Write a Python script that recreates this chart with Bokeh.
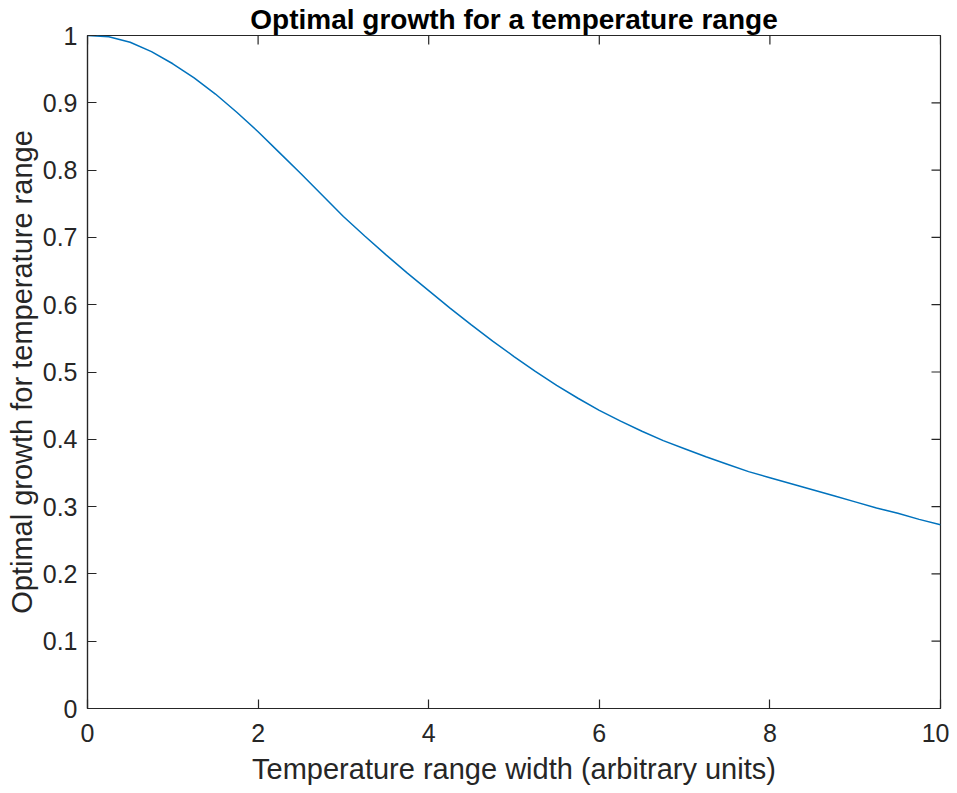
import math
from bokeh.plotting import figure
from bokeh.models import LinearAxis, FixedTicker, Range1d, Title
from bokeh.embed import file_html
from bokeh.resources import INLINE

# Data
width_x = [0.0, 0.25, 0.5, 0.75, 1.0, 1.25, 1.5, 1.75, 2.0, 2.25, 2.5, 2.75,
           3.0, 3.25, 3.5, 3.75, 4.0, 4.25, 4.5, 4.75, 5.0, 5.25, 5.5, 5.75,
           6.0, 6.25, 6.5, 6.75, 7.0, 7.25, 7.5, 7.75, 8.0, 8.25, 8.5, 8.75,
           9.0, 9.25, 9.5, 9.75, 10.0]
growth_y = [1.000, 0.998, 0.990, 0.976, 0.958, 0.937, 0.913, 0.886, 0.857,
            0.826, 0.795, 0.763, 0.731, 0.702, 0.674, 0.647, 0.621, 0.595,
            0.570, 0.546, 0.523, 0.501, 0.480, 0.461, 0.443, 0.427, 0.412,
            0.398, 0.386, 0.374, 0.363, 0.352, 0.343, 0.334, 0.325, 0.316,
            0.307, 0.298, 0.290, 0.281, 0.273]

x_ticks = [0, 2, 4, 6, 8, 10]
x_tick_labels = ["0", "2", "4", "6", "8", "10"]
y_ticks = [0, 0.1, 0.2, 0.3, 0.4, 0.5, 0.6, 0.7, 0.8, 0.9, 1.0]
y_tick_labels = ["0", "0.1", "0.2", "0.3", "0.4", "0.5", "0.6", "0.7", "0.8", "0.9", "1"]

title_text = "Optimal growth for a temperature range"
x_label = "Temperature range width (arbitrary units)"
y_label = "Optimal growth for temperature range"

FONT = "Liberation Sans"
AX = "#262626"

p = figure(width=949, height=793, output_backend="svg", toolbar_location=None,
           x_range=Range1d(0, 10), y_range=Range1d(0, 1),
           x_axis_location=None, y_axis_location=None,
           min_border_left=87, min_border_right=9, min_border_top=35,
           min_border_bottom=85)
p.background_fill_color = "white"
p.border_fill_color = "white"
p.xgrid.visible = False
p.ygrid.visible = False
p.outline_line_color = AX
p.outline_line_width = 1.2

p.title = Title(text=title_text, text_font=FONT, text_font_size="28px",
                text_font_style="bold", text_color="black", align="center",
                offset=0, standoff=2, text_line_height=1.0)

def style(ax, labels, ticks, title):
    ax.ticker = FixedTicker(ticks=ticks)
    ax.major_label_overrides = {t: l for t, l in zip(ticks, labels)}
    ax.axis_line_color = AX
    ax.axis_line_width = 1.2
    ax.major_tick_line_color = AX
    ax.major_tick_line_width = 1.2
    ax.major_tick_in = 9
    ax.major_tick_out = 0
    ax.minor_tick_line_color = None
    ax.major_label_text_font = FONT
    ax.major_label_text_color = AX
    ax.major_label_text_font_size = "25px"
    ax.axis_label = title
    ax.axis_label_text_font = FONT
    ax.axis_label_text_font_size = "29px"
    ax.axis_label_text_font_style = "normal"
    ax.axis_label_text_color = AX

xb = LinearAxis(); style(xb, x_tick_labels, x_ticks, x_label)
xb.major_label_standoff = 15
xb.axis_label_standoff = 8
yl = LinearAxis(); style(yl, y_tick_labels, y_ticks, y_label)
yl.major_label_standoff = 10
yl.axis_label_standoff = 2
p.add_layout(xb, "below")
p.add_layout(yl, "left")

# inward ticks on the top and right edges of the box (clipped to the frame)
p.scatter(x_ticks, [1.0] * len(x_ticks), marker="dash", size=18,
          angle=math.pi / 2, line_color=AX, line_width=1.2)
p.scatter([10.0] * len(y_ticks), y_ticks, marker="dash", size=18,
          line_color=AX, line_width=1.2)

p.line(width_x, growth_y, line_color="#0072BD", line_width=1.5)

open("out.html", "w").write(file_html(p, INLINE))
